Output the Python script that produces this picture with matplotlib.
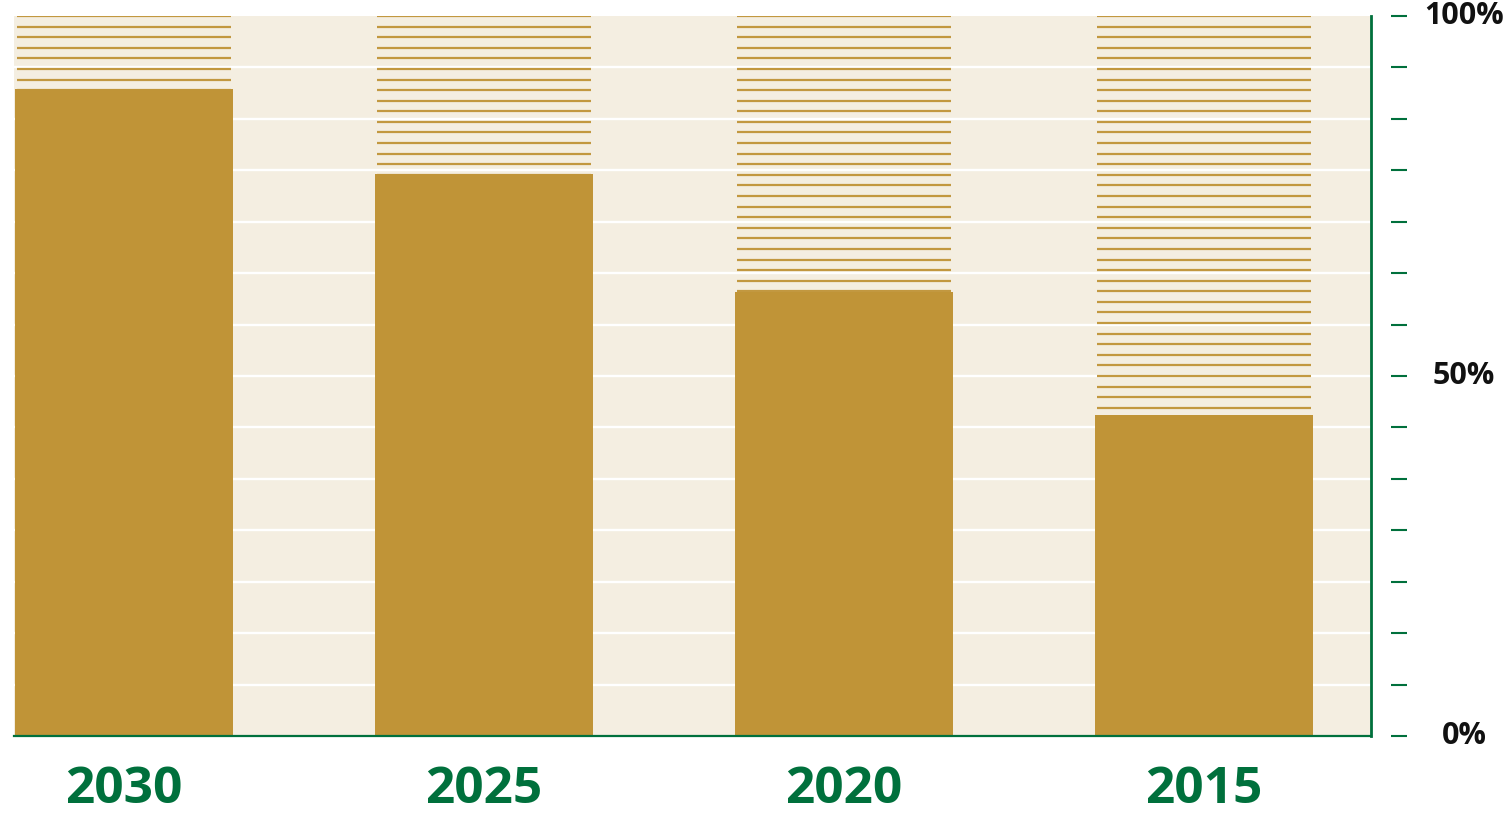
import numpy as np
import matplotlib
matplotlib.use("Agg")
import matplotlib.pyplot as plt

# données
years = ["2030", "2025", "2020", "2015"]
shares = [89.8, 78.1, 61.7, 44.6]          # %
major_ticks = [0, 50, 100]
major_labels = ["0%", "50%", "100%"]

GOLD = "#C09437"
BEIGE = "#F4EEE1"
GREEN = "#00703C"

plt.rcParams["font.family"] = ["Open Sans", "DejaVu Sans"]

fig = plt.figure(figsize=(15.1, 8.13), dpi=100)
ax = fig.add_axes([14 / 1510, 77 / 813, (1371 - 14) / 1510, (736 - 16) / 813])
ax.set_facecolor(BEIGE)

x = np.arange(len(years))
bar_w = 218 / 360
hatch_w = 214 / 360

# grille blanche
minor = np.linspace(0, 100, 15)
for yv in minor[1:-1]:
    ax.axhline(yv, color="white", lw=1.7, zorder=1)

# lignes horizontales (zone restante jusqu'à 100 %)
hatch_y = 100 - np.arange(0, 69) * (100 / 68)
for xi in x:
    ax.hlines(hatch_y, xi - hatch_w / 2, xi + hatch_w / 2, color=GOLD,
              lw=1.6, alpha=0.95, zorder=2)

ax.bar(x, shares, width=bar_w, color=GOLD, zorder=3)

ax.set_xlim(-110 / 360, (1371 - 124) / 360)
ax.set_ylim(0, 100)

# axes
for s in ("left", "top"):
    ax.spines[s].set_visible(False)
ax.spines["bottom"].set_color(GREEN)
ax.spines["bottom"].set_linewidth(1.6)
ax.spines["bottom"].set_zorder(5)
ax.axvline(ax.get_xlim()[1], color=GREEN, lw=2.0, zorder=5, clip_on=False)

# graduations à droite, décalées du bord
ax.yaxis.tick_right()
ax.spines["right"].set_position(("outward", 20 * 72 / 100))
ax.spines["right"].set_visible(False)
ax.set_yticks(major_ticks)
ax.set_yticklabels(major_labels)
ax.set_yticks(minor, minor=True)
ax.tick_params(axis="y", which="both", direction="out", color=GREEN,
               length=16 * 72 / 100, width=1.5)
ax.tick_params(axis="y", which="major", pad=57 * 72 / 100, labelsize=22,
               labelcolor="#111111")
for lab in ax.get_yticklabels():
    lab.set_horizontalalignment("center")
    lab.set_verticalalignment("center")
    lab.set_fontweight("bold")

ax.set_xticks(x)
ax.set_xticklabels(years)
ax.tick_params(axis="x", length=0, pad=21, labelsize=37, labelcolor=GREEN)
for lab in ax.get_xticklabels():
    lab.set_fontweight("bold")

fig.savefig("out.png", dpi=100)
